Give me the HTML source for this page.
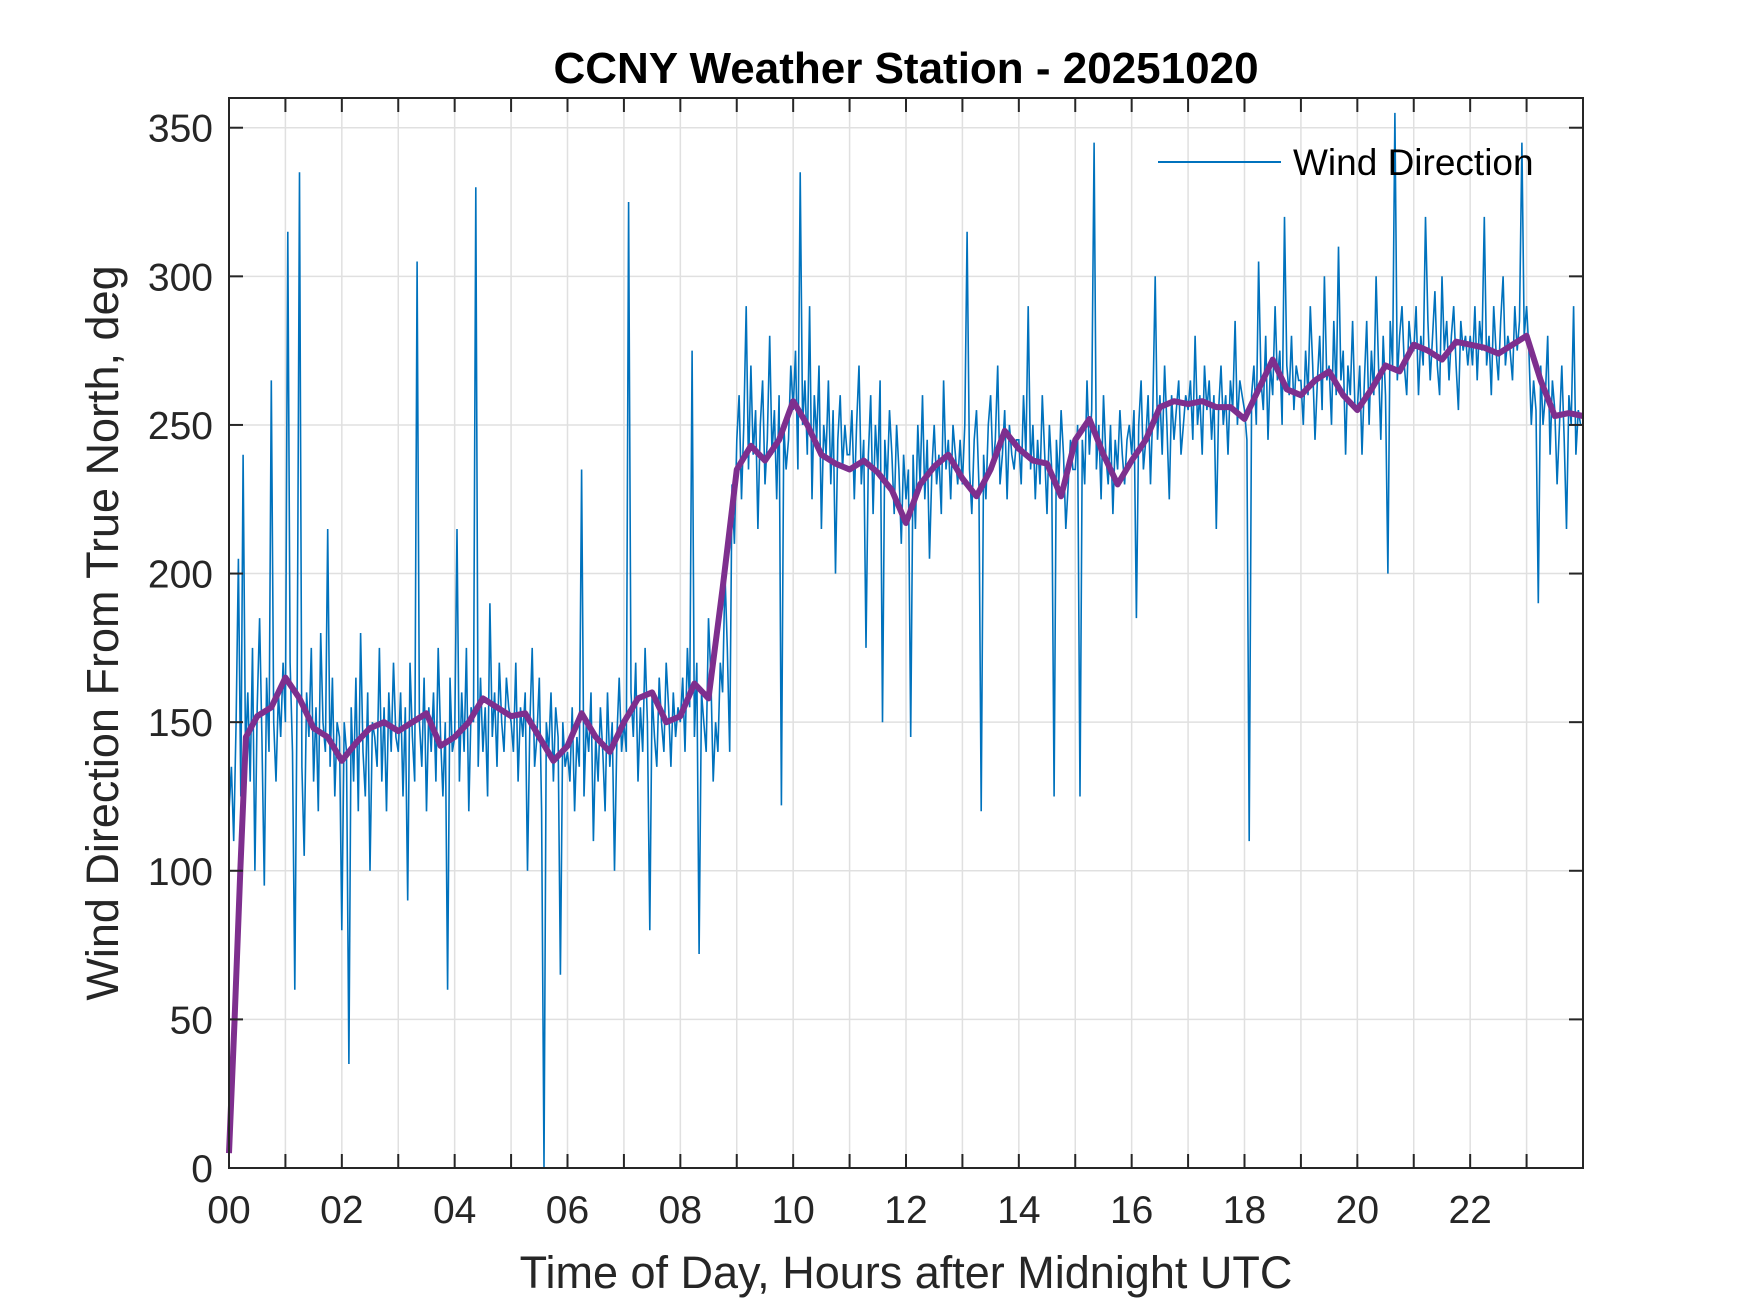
<!DOCTYPE html>
<html><head><meta charset="utf-8"><style>
html,body{margin:0;padding:0;background:#fff;}
svg{display:block;font-family:"Liberation Sans",Arial,sans-serif;}
</style></head><body>
<svg id="chart" width="1750" height="1313" viewBox="0 0 1750 1313" xmlns="http://www.w3.org/2000/svg">
<rect x="0" y="0" width="1750" height="1313" fill="#fff"/>
<g id="grid"></g>
<g id="series"></g>
<g id="axes"></g>
<text x="906" y="83" text-anchor="middle" font-size="44" font-weight="bold" fill="#000">CCNY Weather Station - 20251020</text>
<text x="906" y="1288" text-anchor="middle" font-size="45" fill="#262626">Time of Day, Hours after Midnight UTC</text>
<text transform="translate(118,633) rotate(-90)" text-anchor="middle" font-size="45" fill="#262626">Wind Direction From True North, deg</text>
<g>
<line x1="1158" y1="162" x2="1281" y2="162" stroke="#0072BD" stroke-width="2"/>
<text x="1293" y="175" font-size="37" fill="#000">Wind Direction</text>
</g>
</svg>
<script>
const xTickLabels = ["00","02","04","06","08","10","12","14","16","18","20","22"];
const yTickLabels = [0,50,100,150,200,250,300,350];
// blue raw wind direction, 2.5-minute samples starting at 00:00
const windRaw = [
120,135,110,150,205,125,240,140,160,130,175,100,155,185,145,95,165,140,265,150,130,160,145,170,
150,315,170,140,60,165,335,135,105,160,145,175,130,155,120,180,150,140,215,135,165,125,150,145,
80,150,140,35,155,130,165,120,180,140,125,160,100,150,145,135,175,130,155,120,160,140,170,145,
140,160,125,155,90,170,145,130,305,150,135,165,120,155,140,160,130,175,145,125,150,60,165,140,
145,215,130,160,140,175,120,155,150,330,135,165,140,155,125,190,145,160,135,170,150,140,165,155,
150,140,170,130,155,145,160,100,150,175,135,145,165,120,0,150,140,160,130,155,145,65,150,135,
140,130,155,120,145,135,235,125,150,140,160,110,145,130,155,140,120,160,135,150,100,145,165,140,
150,140,325,160,145,170,130,155,140,175,150,80,160,145,135,165,150,140,170,155,135,160,145,155,
150,165,140,175,155,275,145,170,72,160,150,140,185,165,130,150,140,170,160,200,175,140,230,210,
245,260,225,250,290,235,270,240,255,215,250,265,230,245,280,240,255,225,260,122,250,235,245,270,
255,275,235,335,250,265,240,290,225,260,245,270,215,250,240,265,230,255,200,245,260,235,250,240,
240,255,225,250,270,230,245,175,240,260,220,250,235,265,150,245,230,255,240,220,250,235,210,240,
225,235,145,240,215,250,230,260,225,245,205,235,250,230,240,220,265,235,245,225,250,240,230,245,
230,250,315,235,220,245,255,230,120,240,225,250,260,235,245,270,230,240,255,225,250,240,235,245,
245,230,260,240,290,235,250,225,245,230,260,240,220,250,235,125,245,230,255,240,215,230,245,235,
235,250,125,245,230,265,240,255,345,235,250,225,260,240,230,250,220,245,235,255,240,230,245,250,
240,255,185,250,265,235,245,260,230,255,300,245,260,240,270,250,225,260,245,255,265,240,250,260,
255,265,245,280,250,260,240,270,255,265,245,260,215,255,270,250,260,240,265,255,285,250,265,260,
255,245,110,260,270,250,305,265,255,280,245,270,260,290,265,275,250,320,270,260,280,255,270,265,
265,250,275,260,290,270,245,265,280,255,300,265,270,250,285,260,310,265,275,240,270,260,285,255,
255,270,240,265,285,250,275,260,300,270,245,280,260,200,285,270,355,265,280,290,270,260,285,275,
275,290,260,280,270,320,285,265,280,295,270,260,300,275,285,265,280,290,270,255,285,275,280,270,
280,270,290,265,285,275,320,270,280,260,290,275,265,285,300,270,280,275,265,290,275,285,345,280,
290,275,250,265,255,190,270,250,260,280,240,265,255,230,250,270,245,215,260,250,290,240,255,250
];
const rawStepHours = 2.5/60;
// purple smoothed series
const smoothHours = [0,0.1,0.2,0.3,0.5,0.75,1,1.25,1.5,1.75,2,2.25,2.5,2.75,3,3.25,3.5,3.75,4,4.25,4.5,4.75,5,5.25,5.5,5.75,6,6.25,6.5,6.75,7,7.25,7.5,7.75,8,8.25,8.5,8.75,9,9.25,9.5,9.75,10,10.25,10.5,10.75,11,11.25,11.5,11.75,12,12.25,12.5,12.75,13,13.25,13.5,13.75,14,14.25,14.5,14.75,15,15.25,15.5,15.75,16,16.25,16.5,16.75,17,17.25,17.5,17.75,18,18.25,18.5,18.75,19,19.25,19.5,19.75,20,20.25,20.5,20.75,21,21.25,21.5,21.75,22,22.25,22.5,22.75,23,23.25,23.5,23.75,24];
const smoothVals = [5,50,100,145,152,155,165,158,148,145,137,143,148,150,147,150,153,142,145,150,158,155,152,153,145,137,142,153,145,140,150,158,160,150,152,163,158,195,235,243,238,245,258,250,240,237,235,238,234,228,217,230,236,240,232,226,235,248,242,238,237,226,245,252,240,230,238,245,256,258,257,258,256,256,252,262,272,262,260,265,268,260,255,262,270,268,277,275,272,278,277,276,274,277,280,265,253,254,253];

const L=229,R=1583,T=98,B=1168,XMAX=24,YMAX=360;
const xs=h=>L+(h/XMAX)*(R-L);
const ys=v=>B-(v/YMAX)*(B-T);
const NS="http://www.w3.org/2000/svg";
function mk(tag,parent){const e=document.createElementNS(NS,tag);parent.appendChild(e);return e;}
const grid=document.getElementById('grid'),series=document.getElementById('series'),axes=document.getElementById('axes');
for(let h=1;h<XMAX;h++){
  const g=mk('line',grid);
  
  
  g.setAttribute('x1',xs(h));g.setAttribute('x2',xs(h));g.setAttribute('y1',T);g.setAttribute('y2',B);
  g.setAttribute('stroke','#e0e0e0');g.setAttribute('stroke-width','1.5');
  for(const [y1,y2] of [[B,B-14],[T,T+14]]){
    const t=mk('line',axes);
    
    
    t.setAttribute('x1',xs(h));t.setAttribute('x2',xs(h));t.setAttribute('y1',y1);t.setAttribute('y2',y2);
    t.setAttribute('stroke','#262626');t.setAttribute('stroke-width','2');
  }
}
xTickLabels.forEach(s=>{
  const h=parseInt(s,10);
  const t=mk('text',axes);
  
  
  t.setAttribute('x',xs(h));t.setAttribute('y',B+55);t.setAttribute('text-anchor','middle');
  t.setAttribute('font-size','39');t.setAttribute('fill','#262626');t.textContent=s;
});
yTickLabels.forEach(v=>{
  if(v>0&&v<YMAX){
    const g=mk('line',grid);
    
    
    g.setAttribute('x1',L);g.setAttribute('x2',R);g.setAttribute('y1',ys(v));g.setAttribute('y2',ys(v));
    g.setAttribute('stroke','#e0e0e0');g.setAttribute('stroke-width','1.5');
    for(const [x1,x2] of [[L,L+14],[R,R-14]]){
      const t=mk('line',axes);
      
      
      t.setAttribute('x1',x1);t.setAttribute('x2',x2);t.setAttribute('y1',ys(v));t.setAttribute('y2',ys(v));
      t.setAttribute('stroke','#262626');t.setAttribute('stroke-width','2');
    }
  }
  const t=mk('text',axes);
  
  
  t.setAttribute('x',L-16);t.setAttribute('y',ys(v)+14);t.setAttribute('text-anchor','end');
  t.setAttribute('font-size','39');t.setAttribute('fill','#262626');t.textContent=v;
});
const box=mk('rect',axes);


box.setAttribute('x',L);box.setAttribute('y',T);box.setAttribute('width',R-L);box.setAttribute('height',B-T);
box.setAttribute('fill','none');box.setAttribute('stroke','#262626');box.setAttribute('stroke-width','2');

const raw=mk('polyline',series);


raw.setAttribute('points',windRaw.map((v,i)=>xs(i*rawStepHours).toFixed(1)+','+ys(v).toFixed(1)).join(' '));
raw.setAttribute('fill','none');raw.setAttribute('stroke','#0072BD');raw.setAttribute('stroke-width','1.6');
const sm=mk('polyline',series);


sm.setAttribute('points',smoothVals.map((v,i)=>xs(smoothHours[i]).toFixed(1)+','+ys(v).toFixed(1)).join(' '));
sm.setAttribute('fill','none');sm.setAttribute('stroke','#7E2F8E');sm.setAttribute('stroke-width','6');sm.setAttribute('stroke-linejoin','round');
</script>
</body></html>
